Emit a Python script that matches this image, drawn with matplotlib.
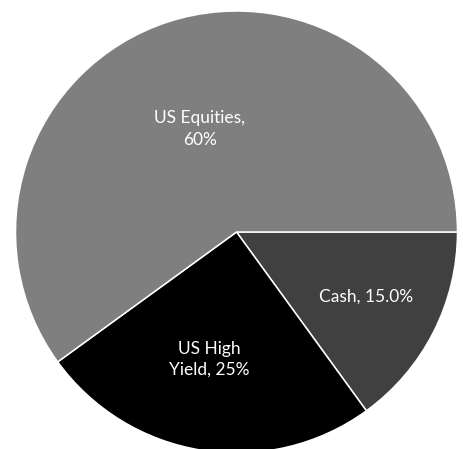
import matplotlib
matplotlib.use("Agg")
import matplotlib.pyplot as plt

# Data
categories = ["Cash", "US High Yield", "US Equities"]
values = [15.0, 25.0, 60.0]
label_texts = ["Cash, 15.0%", "US High\nYield, 25%", "US Equities,\n60%"]

# Styling
colors = ["#404040", "#000000", "#7f7f7f"]
label_pos = [(0.586, -0.293), (-0.122, -0.577), (-0.167, 0.466)]

W, H = 463, 449
cx, cy, R = 236.5, 232.0, 221.0

fig = plt.figure(figsize=(W / 100, H / 100), dpi=100)
ax = fig.add_axes([0, 0, 1, 1])
ax.pie(values, colors=colors, startangle=0, counterclock=False, radius=1.0,
       wedgeprops=dict(edgecolor="white", linewidth=1.1))
ax.set_aspect("auto")
ax.set_xlim(-cx / R, (W - cx) / R)
ax.set_ylim(-(H - cy) / R, cy / R)
ax.axis("off")

for txt, (x, y) in zip(label_texts, label_pos):
    ax.text(x, y, txt, ha="center", va="center", color="white",
            fontsize=12.5, family=["Lato", "DejaVu Sans"], linespacing=1.4,
            multialignment="center")

fig.savefig("out.png", dpi=100, facecolor="white")
